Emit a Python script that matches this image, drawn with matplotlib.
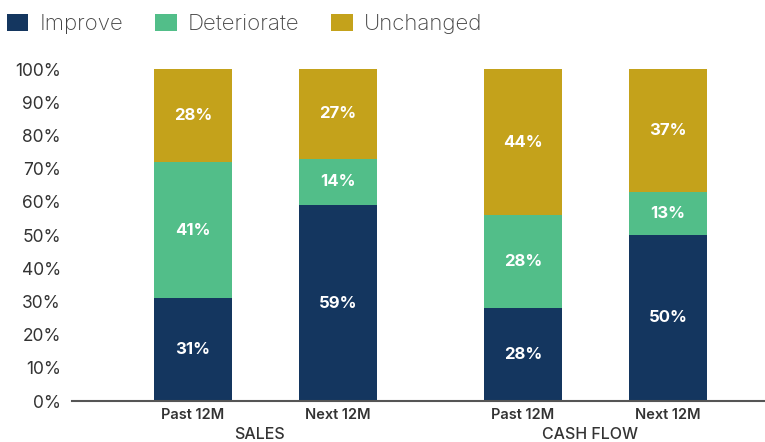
import matplotlib
matplotlib.use("Agg")
import matplotlib.pyplot as plt
import numpy as np

plt.rcParams['font.family'] = ['Inter', 'DejaVu Sans']

# data
periods = ["Past 12M", "Next 12M", "Past 12M", "Next 12M"]
groups = ["SALES", "CASH FLOW"]
improve = [31, 59, 28, 50]
deteriorate = [41, 14, 28, 13]
unchanged = [28, 27, 44, 37]

series = [("Improve", improve, "#14365f"),
          ("Deteriorate", deteriorate, "#52be89"),
          ("Unchanged", unchanged, "#c4a21b")]

x = np.array([0, 1, 2.276, 3.276])
width = 0.538

fig = plt.figure(figsize=(7.65, 4.42), dpi=100)
ax = fig.add_axes([72 / 765, 41 / 442, 1 - 72 / 765, 332 / 442])

bottom = np.zeros(len(x))
handles = []
for name, vals, color in series:
    vals = np.array(vals)
    b = ax.bar(x, vals, width, bottom=bottom, color=color, label=name, zorder=2)
    handles.append(b)
    for xi, bi, vi in zip(x, bottom, vals):
        ax.text(xi, bi + vi / 2, f"{vi}%", ha="center", va="center",
                color="white", fontsize=12, fontweight="bold", zorder=3)
    bottom += vals

ax.set_ylim(0, 100)
ax.set_xlim(-0.834, 3.945)
ax.set_yticks(range(0, 101, 10))
ax.set_yticklabels([f"{v}%" for v in range(0, 101, 10)], fontsize=12.5, color="#333333")
ax.set_xticks(x)
ax.set_xticklabels(periods, fontsize=10.5, color="#333333", fontweight="semibold")
ax.tick_params(axis="both", length=0)
ax.tick_params(axis="y", pad=8)
ax.tick_params(axis="x", pad=5)

for s in ["top", "right", "left"]:
    ax.spines[s].set_visible(False)
ax.spines["bottom"].set_color("#555555")
ax.spines["bottom"].set_linewidth(1.5)

for i, g in enumerate(groups):
    gx = (x[2 * i] + x[2 * i + 1]) / 2 - 0.04
    ax.text(gx, -10.0, g, ha="center", va="center", fontsize=11.5,
            color="#333333", fontweight="medium")

leg = fig.legend(handles=handles, labels=[s[0] for s in series],
                 loc="upper left", bbox_to_anchor=(-0.008, 0.998), ncol=3,
                 frameon=False, fontsize=16, handlelength=0.95, handleheight=0.75,
                 handletextpad=0.5, columnspacing=1.45, borderaxespad=0.2)
for t in leg.get_texts():
    t.set_color("#444444")
    t.set_fontweight("light")

fig.savefig("out.png", dpi=100)
